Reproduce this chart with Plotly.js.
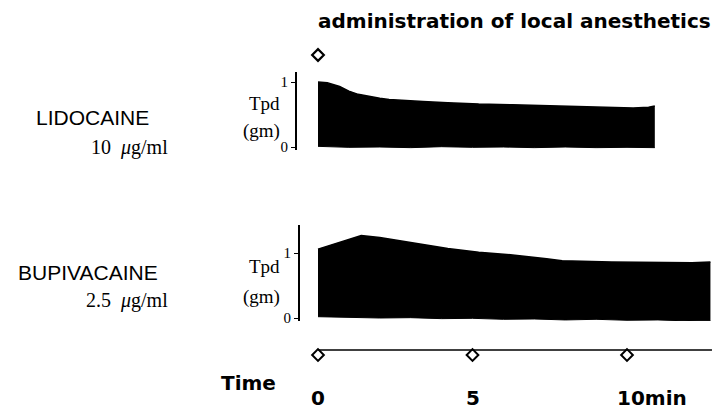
<!DOCTYPE html>
<html>
<head>
<meta charset="utf-8">
<script src="https://cdn.plot.ly/plotly-3.0.1.min.js"></script>
<style>html,body{margin:0;padding:0;background:#fff}#chart{width:722px;height:409px}</style>
</head>
<body>
<div id="chart"></div>
<script>
// ---- data (time in minutes, tension in gm) ----
var lidoTime  = [0, 0.3, 0.7, 1.0, 1.3, 1.6, 2.0, 2.3, 2.8, 3.4, 4.2, 5.2, 6.3, 7.4, 8.5, 9.5, 10.2, 10.7, 10.9];
var lidoTpd   = [1.00, 0.99, 0.93, 0.86, 0.81, 0.78, 0.75, 0.73, 0.72, 0.70, 0.68, 0.66, 0.65, 0.635, 0.62, 0.60, 0.60, 0.61, 0.63];
var lidoBaseT = [0, 1.0, 2.0, 3.0, 4.0, 5.0, 6.0, 7.0, 8.0, 9.0, 10.0, 10.9];
var lidoBase  = [0.01, -0.005, 0.0, -0.01, 0.005, -0.005, 0.0, -0.01, 0.0, -0.01, -0.005, -0.01];

var bupiTime  = [0, 0.7, 1.4, 2.0, 3.1, 4.2, 5.2, 6.3, 7.4, 7.9, 9.5, 11.0, 12.1, 12.7];
var bupiTpd   = [1.06, 1.17, 1.27, 1.24, 1.15, 1.07, 1.01, 0.97, 0.91, 0.88, 0.86, 0.855, 0.85, 0.86];
var bupiBaseT = [0, 1.0, 2.0, 3.0, 4.0, 5.0, 6.0, 7.0, 8.0, 9.0, 10.0, 11.0, 12.0, 12.7];
var bupiBase  = [0.02, 0.01, 0.0, 0.005, -0.01, -0.005, -0.02, -0.015, -0.03, -0.02, -0.035, -0.03, -0.045, -0.04];

var timeMarks  = [0, 5, 10];
var timeLabels = ['0', '5', '10min'];
var axisEnd    = 12.75;

// ---- pixel helpers for layout ----
var W = 722, H = 409;
function px(x){ return x / W; }
function py(y){ return 1 - y / H; }
var minPx = 30.9, t0Px = 318;
var xr = [-t0Px / minPx, (W - t0Px) / minPx];

var traces = [
  {x: lidoBaseT, y: lidoBase, xaxis:'x', yaxis:'y', mode:'lines', line:{color:'#000', width:1}, hoverinfo:'skip'},
  {x: lidoTime, y: lidoTpd, xaxis:'x', yaxis:'y', mode:'lines', fill:'tonexty', fillcolor:'#000', line:{color:'#000', width:1.5}},
  {x: bupiBaseT, y: bupiBase, xaxis:'x', yaxis:'y2', mode:'lines', line:{color:'#000', width:1}, hoverinfo:'skip'},
  {x: bupiTime, y: bupiTpd, xaxis:'x', yaxis:'y2', mode:'lines', fill:'tonexty', fillcolor:'#000', line:{color:'#000', width:1.5}},
  // time axis line
  {x: [timeMarks[0], axisEnd], y: [0, 0], xaxis:'x', yaxis:'y3', mode:'lines', line:{color:'#000', width:1.5}},
  // time markers
  {x: timeMarks, y: timeMarks.map(function(){return -5;}), xaxis:'x', yaxis:'y3', mode:'markers',
   marker:{symbol:'diamond-open', size:9, color:'#000', line:{width:2, color:'#000'}}},
  // administration marker
  {x: [timeMarks[0]], y: [295], xaxis:'x', yaxis:'y3', mode:'markers',
   marker:{symbol:'diamond-open', size:9, color:'#000', line:{width:2.2, color:'#000'}}}
];

var ann = [];
function A(text, x, y, opts){
  var a = {text:text, x:px(x), y:py(y), xref:'paper', yref:'paper', showarrow:false, xanchor:'center', yanchor:'middle'};
  for (var k in opts) a[k] = opts[k];
  ann.push(a);
}
var titleFont = {family:'DejaVu Sans, sans-serif', size:20, color:'#000', weight:'bold'};
var bold = {family:'DejaVu Sans, sans-serif', size:20, color:'#000', weight:'bold'};
var sans = {family:'Liberation Sans, Arial, sans-serif', size:21, color:'#000'};
var serif = {family:'Liberation Serif, Times New Roman, serif', size:19, color:'#000'};
var serifDose = {family:'Liberation Serif, Times New Roman, serif', size:20, color:'#000'};
A('<b>administration of local anesthetics</b>', 514, 21, {font:titleFont});
A('LIDOCAINE', 92, 117, {font:sans});
A('10  <i>μ</i>g/ml', 170, 147, {font:serifDose, xanchor:'right'});
A('Tpd', 264, 103, {font:serif});
A('(gm)', 261, 131, {font:serif});
A('BUPIVACAINE', 88, 272, {font:sans});
A('2.5  <i>μ</i>g/ml', 170, 300, {font:serifDose, xanchor:'right'});
A('Tpd', 264, 266, {font:serif});
A('(gm)', 261, 297, {font:serif});
A('<b>Time</b>', 248, 383, {font:bold});
for (var i = 0; i < timeMarks.length; i++) {
  var isLast = i === timeMarks.length - 1;
  ann.push({text:'<b>' + timeLabels[i] + '</b>', x:timeMarks[i], y:-48, xref:'x', yref:'y3', showarrow:false,
            xanchor: isLast ? 'left' : 'center', xshift: isLast ? -12 : 0, yanchor:'middle', font:bold});
}

var tickFont = {family:'Liberation Serif, serif', size:15, color:'#000'};
var layout = {
  width: W, height: H,
  margin: {l:0, r:0, t:0, b:0},
  paper_bgcolor:'#fff', plot_bgcolor:'rgba(0,0,0,0)',
  showlegend:false,
  xaxis: {domain:[0,1], range:xr, visible:false, fixedrange:true},
  yaxis: {domain:[py(150), py(72)], range:[(147-150)/65, (147-72)/65], anchor:'free', position:px(296),
          showline:true, linecolor:'#000', linewidth:2, showgrid:false, zeroline:false,
          tickvals:[0,1], ticktext:['0','1'], ticks:'outside', ticklen:4, tickcolor:'#000', tickfont:tickFont},
  yaxis2: {domain:[py(321), py(225)], range:[(318-321)/65, (318-225)/65], anchor:'free', position:px(299),
          showline:true, linecolor:'#000', linewidth:2, showgrid:false, zeroline:false,
          tickvals:[0,1], ticktext:['0','1'], ticks:'outside', ticklen:4, tickcolor:'#000', tickfont:tickFont},
  yaxis3: {domain:[0,1], range:[-(H-350), 350], visible:false, fixedrange:true},
  annotations: ann
};
Plotly.newPlot('chart', traces, layout, {displayModeBar:false, staticPlot:true});
</script>
</body>
</html>
